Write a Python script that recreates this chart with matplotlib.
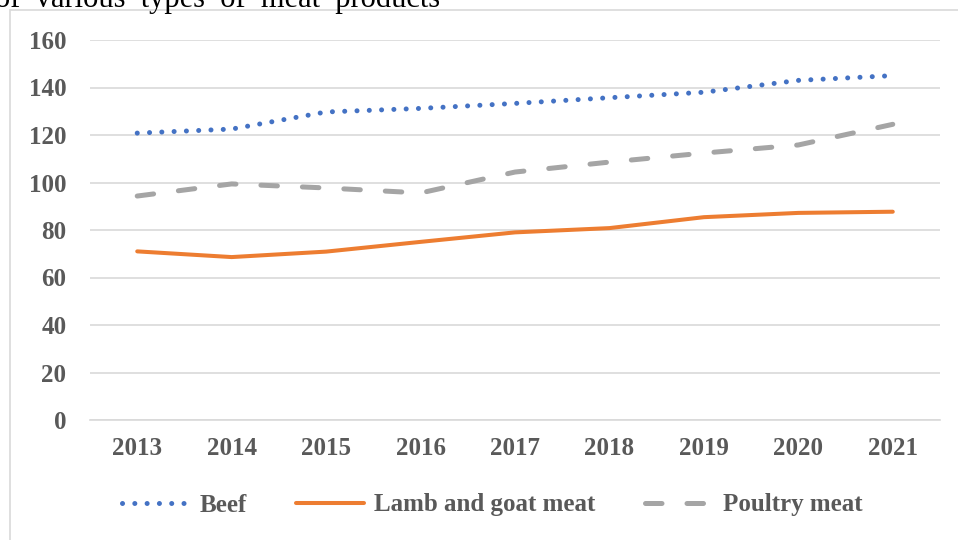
import matplotlib
matplotlib.use("Agg")
import matplotlib.pyplot as plt
from matplotlib.patches import Rectangle

years = ["2013", "2014", "2015", "2016", "2017", "2018", "2019", "2020", "2021"]
beef = [120.8, 122.5, 129.7, 131.2, 133.3, 135.7, 138.0, 143.0, 145.0]
lamb_goat = [71.0, 68.6, 70.9, 75.0, 79.0, 80.8, 85.4, 87.2, 87.7]
poultry = [94.3, 99.4, 97.7, 95.6, 104.4, 108.6, 112.4, 115.8, 124.5]
y_ticks = [0, 20, 40, 60, 80, 100, 120, 140, 160]

plt.rcParams["font.family"] = ["Liberation Serif", "DejaVu Serif"]

fig = plt.figure(figsize=(9.58, 5.4), dpi=100)
W, H = 958, 540

# chart area border (continues past the right/bottom edge in the source)
fig.patches.append(Rectangle((10 / W, -0.1), 1.2, 1 - 10 / H + 0.1,
                             transform=fig.transFigure, fill=False,
                             edgecolor="#d9d9d9", linewidth=1.2))

# clipped caption from the page above the chart
fig.text(-5 / W, 1 - 7 / H, "of  various  types  of  meat  products",
         fontsize=22, color="black", va="baseline", ha="left")

ax = fig.add_axes([90 / W, 1 - 420 / H, 850 / W, 380 / H])
x = list(range(len(years)))

ax.plot(x, beef, color="#4472C4", linewidth=3.6, dashes=(0.01, 2.45),
        dash_capstyle="round", label="Beef")
ax.plot(x, lamb_goat, color="#ED7D31", linewidth=2.9,
        solid_capstyle="round", label="Lamb and goat meat")
ax.plot(x, poultry, color="#A5A5A5", linewidth=3.6, dashes=(3.3, 5.0),
        dash_capstyle="round", label="Poultry meat")

ax.set_xlim(-0.5, len(years) - 0.5)
ax.set_ylim(0, 160)
ax.set_xticks(x)
ax.set_xticklabels(years)
ax.set_yticks(y_ticks)
ax.set_yticklabels([str(v) for v in y_ticks])
ax.grid(axis="y", color="#d9d9d9", linewidth=1.2)
ax.set_axisbelow(True)
for s in ax.spines.values():
    s.set_visible(False)
ax.spines["bottom"].set_visible(True)
ax.spines["bottom"].set_color("#d9d9d9")
ax.spines["bottom"].set_linewidth(1.2)
ax.tick_params(length=0, labelsize=18, labelcolor="#595959")
ax.tick_params(axis="y", pad=17)
ax.tick_params(axis="x", pad=12)
for lab in ax.get_xticklabels() + ax.get_yticklabels():
    lab.set_fontweight("bold")

leg = fig.legend(loc="center", bbox_to_anchor=(492 / W, 1 - 505 / H), ncol=3,
                 frameon=False, handlelength=2.7, columnspacing=2.0,
                 handletextpad=0.4,
                 prop={"size": 18, "weight": "bold"})
for t in leg.get_texts():
    t.set_color("#595959")

fig.savefig("out.png", dpi=100)
